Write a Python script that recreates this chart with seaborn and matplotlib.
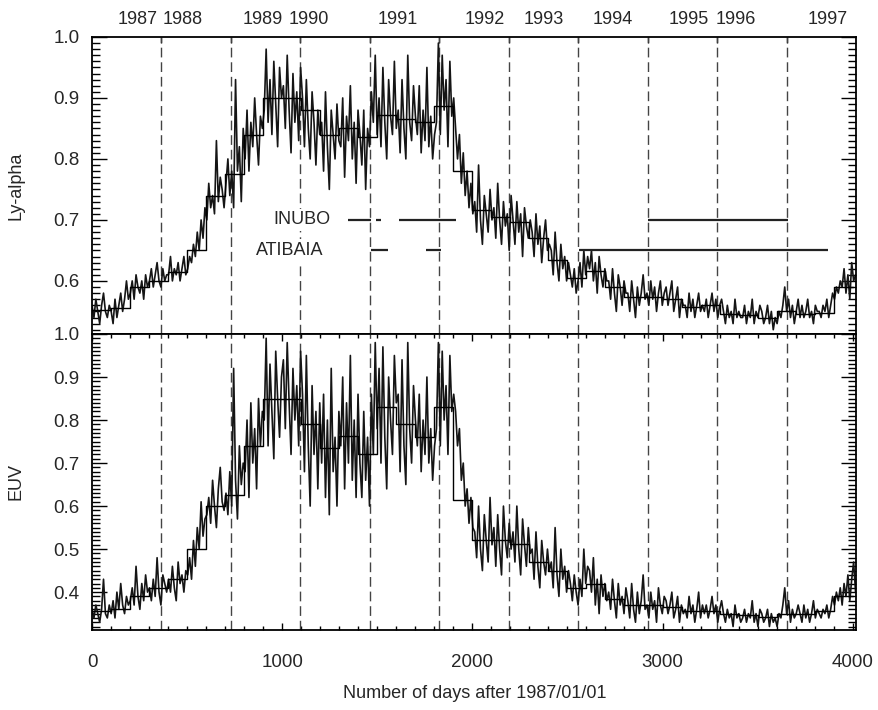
import numpy as np
import pandas as pd
import matplotlib
matplotlib.use("Agg")
import matplotlib.pyplot as plt
import seaborn as sns
from matplotlib.ticker import MultipleLocator, FixedLocator

# Rotation-group (100 day) averages
lya_step = [0.553, 0.555, 0.590, 0.600, 0.615, 0.650, 0.740, 0.776, 0.840, 0.900,
            0.900, 0.880, 0.840, 0.850, 0.836, 0.872, 0.865, 0.860, 0.886, 0.780,
            0.716, 0.705, 0.697, 0.670, 0.635, 0.605, 0.617, 0.590, 0.574, 0.574,
            0.570, 0.557, 0.560, 0.545, 0.544, 0.540, 0.550, 0.546, 0.548, 0.590]
euv_step = [0.357, 0.360, 0.390, 0.410, 0.430, 0.500, 0.600, 0.625, 0.740, 0.850,
            0.850, 0.790, 0.735, 0.764, 0.720, 0.830, 0.790, 0.760, 0.830, 0.613,
            0.520, 0.520, 0.512, 0.470, 0.450, 0.410, 0.420, 0.384, 0.370, 0.370,
            0.365, 0.357, 0.357, 0.348, 0.346, 0.342, 0.350, 0.350, 0.355, 0.390]

# Daily curve, sampled every ~10 days (one row = 100 days)
lya_daily = [
    0.56, 0.54, 0.57, 0.55, 0.53, 0.56, 0.58, 0.55, 0.54, 0.56,
    0.55, 0.53, 0.57, 0.54, 0.56, 0.58, 0.55, 0.57, 0.60, 0.57,
    0.58, 0.60, 0.57, 0.61, 0.59, 0.58, 0.60, 0.57, 0.61, 0.59,
    0.60, 0.62, 0.59, 0.61, 0.63, 0.60, 0.59, 0.62, 0.60, 0.61,
    0.61, 0.64, 0.60, 0.62, 0.61, 0.63, 0.60, 0.62, 0.64, 0.61,
    0.62, 0.64, 0.63, 0.66, 0.64, 0.68, 0.65, 0.70, 0.67, 0.72,
    0.70, 0.76, 0.72, 0.74, 0.71, 0.83, 0.73, 0.77, 0.75, 0.72,
    0.76, 0.80, 0.74, 0.78, 0.72, 0.93, 0.78, 0.82, 0.73, 0.85,
    0.80, 0.88, 0.78, 0.86, 0.82, 0.90, 0.84, 0.79, 0.87, 0.85,
    0.88, 0.98, 0.86, 0.93, 0.84, 0.96, 0.89, 0.82, 0.95, 0.90,
    0.92, 0.85, 0.97, 0.88, 0.81, 0.94, 0.86, 0.91, 0.83, 0.95,
    0.90, 0.82, 0.93, 0.85, 0.80, 0.91, 0.86, 0.79, 0.88, 0.84,
    0.86, 0.78, 0.91, 0.82, 0.75, 0.88, 0.84, 0.80, 0.89, 0.83,
    0.82, 0.90, 0.77, 0.87, 0.83, 0.92, 0.80, 0.86, 0.76, 0.88,
    0.84, 0.79, 0.88, 0.75, 0.85, 0.82, 0.91, 0.86, 0.97, 0.84,
    0.90, 0.82, 0.95, 0.86, 0.80, 0.93, 0.87, 0.84, 0.96, 0.85,
    0.88, 0.81, 0.93, 0.85, 0.80, 0.97, 0.86, 0.83, 0.92, 0.87,
    0.84, 0.92, 0.81, 0.88, 0.83, 0.95, 0.82, 0.87, 0.80, 0.84,
    0.86, 0.99, 0.84, 0.97, 0.88, 0.93, 0.82, 0.96, 0.87, 0.90,
    0.85, 0.80, 0.84, 0.76, 0.81, 0.74, 0.78, 0.72, 0.76, 0.71,
    0.73, 0.68, 0.79, 0.70, 0.66, 0.74, 0.71, 0.68, 0.75, 0.70,
    0.72, 0.67, 0.76, 0.70, 0.66, 0.73, 0.69, 0.71, 0.65, 0.74,
    0.70, 0.66, 0.73, 0.68, 0.71, 0.64, 0.72, 0.69, 0.67, 0.70,
    0.68, 0.64, 0.71, 0.66, 0.69, 0.63, 0.67, 0.70, 0.65, 0.66,
    0.65, 0.61, 0.68, 0.63, 0.60, 0.66, 0.62, 0.64, 0.60, 0.63,
    0.61, 0.59, 0.62, 0.58, 0.60, 0.63, 0.59, 0.65, 0.61, 0.64,
    0.62, 0.65, 0.60, 0.63, 0.58, 0.64, 0.61, 0.59, 0.62, 0.60,
    0.60, 0.57, 0.62, 0.58, 0.55, 0.61, 0.59, 0.56, 0.60, 0.58,
    0.58, 0.55, 0.60, 0.57, 0.54, 0.59, 0.56, 0.58, 0.61, 0.57,
    0.58, 0.56, 0.60, 0.57, 0.59, 0.55, 0.58, 0.60, 0.56, 0.58,
    0.59, 0.56, 0.58, 0.60, 0.55, 0.57, 0.59, 0.54, 0.57, 0.56,
    0.56, 0.54, 0.58, 0.55, 0.57, 0.54, 0.56, 0.58, 0.55, 0.56,
    0.55, 0.57, 0.54, 0.56, 0.58, 0.55, 0.57, 0.54, 0.56, 0.57,
    0.55, 0.53, 0.56, 0.54, 0.55, 0.53, 0.57, 0.54, 0.55, 0.54,
    0.54, 0.56, 0.53, 0.55, 0.54, 0.57, 0.53, 0.55, 0.54, 0.56,
    0.55, 0.53, 0.54, 0.56, 0.53, 0.55, 0.52, 0.54, 0.53, 0.55,
    0.54, 0.56, 0.59, 0.55, 0.57, 0.54, 0.56, 0.53, 0.55, 0.57,
    0.54, 0.56, 0.54, 0.55, 0.57, 0.54, 0.55, 0.53, 0.56, 0.55,
    0.55, 0.54, 0.56, 0.55, 0.57, 0.54, 0.56, 0.58, 0.57, 0.59,
    0.58, 0.60, 0.59, 0.62, 0.58, 0.61, 0.57, 0.63, 0.60, 0.61,
]
euv_daily = [
    0.36, 0.34, 0.37, 0.35, 0.33, 0.36, 0.43, 0.35, 0.34, 0.37,
    0.35, 0.38, 0.34, 0.40, 0.36, 0.42, 0.37, 0.35, 0.39, 0.37,
    0.38, 0.41, 0.37, 0.46, 0.39, 0.36, 0.42, 0.38, 0.44, 0.40,
    0.41, 0.38, 0.43, 0.39, 0.48, 0.40, 0.37, 0.44, 0.42, 0.40,
    0.43, 0.40, 0.46, 0.41, 0.38, 0.47, 0.42, 0.44, 0.40, 0.45,
    0.44, 0.48, 0.43, 0.52, 0.46, 0.55, 0.50, 0.61, 0.53, 0.57,
    0.58, 0.62, 0.56, 0.66, 0.60, 0.55, 0.64, 0.69, 0.61, 0.59,
    0.63, 0.58, 0.68, 0.60, 0.92, 0.66, 0.57, 0.74, 0.65, 0.70,
    0.68, 0.80, 0.62, 0.84, 0.70, 0.78, 0.64, 0.85, 0.74, 0.82,
    0.80, 0.99, 0.74, 0.93, 0.82, 0.71, 0.96, 0.85, 0.76, 0.90,
    0.94, 0.78, 0.98, 0.84, 0.72, 0.92, 0.80, 0.88, 0.74, 0.96,
    0.86, 0.68, 0.95, 0.74, 0.60, 0.88, 0.72, 0.82, 0.64, 0.84,
    0.70, 0.86, 0.62, 0.80, 0.58, 0.92, 0.68, 0.76, 0.60, 0.82,
    0.74, 0.90, 0.64, 0.84, 0.70, 0.95, 0.66, 0.80, 0.62, 0.86,
    0.70, 0.62, 0.82, 0.66, 0.76, 0.60, 0.86, 0.72, 0.98, 0.78,
    0.92, 0.70, 0.97, 0.76, 0.64, 0.90, 0.80, 0.72, 0.95, 0.84,
    0.86, 0.68, 0.94, 0.74, 0.65, 0.98, 0.78, 0.70, 0.88, 0.80,
    0.74, 0.86, 0.68, 0.80, 0.72, 0.90, 0.70, 0.78, 0.66, 0.74,
    0.78, 0.98, 0.74, 0.96, 0.80, 0.88, 0.72, 0.95, 0.82, 0.86,
    0.82, 0.74, 0.78, 0.66, 0.70, 0.60, 0.64, 0.56, 0.62, 0.55,
    0.54, 0.48, 0.60, 0.50, 0.45, 0.58, 0.52, 0.47, 0.62, 0.51,
    0.55, 0.46, 0.58, 0.50, 0.44, 0.60, 0.52, 0.48, 0.56, 0.50,
    0.54, 0.47, 0.60, 0.50, 0.44, 0.57, 0.51, 0.46, 0.55, 0.49,
    0.50, 0.43, 0.54, 0.46, 0.41, 0.52, 0.47, 0.44, 0.50, 0.45,
    0.47, 0.41, 0.55, 0.44, 0.39, 0.50, 0.43, 0.46, 0.40, 0.45,
    0.42, 0.38, 0.44, 0.40, 0.37, 0.43, 0.39, 0.50, 0.42, 0.46,
    0.45, 0.40, 0.48, 0.37, 0.43, 0.35, 0.44, 0.39, 0.42, 0.38,
    0.40, 0.36, 0.43, 0.38, 0.34, 0.42, 0.37, 0.39, 0.35, 0.41,
    0.38, 0.34, 0.42, 0.36, 0.33, 0.40, 0.35, 0.38, 0.44, 0.36,
    0.37, 0.34, 0.40, 0.36, 0.38, 0.33, 0.41, 0.37, 0.35, 0.39,
    0.38, 0.35, 0.37, 0.40, 0.34, 0.36, 0.39, 0.33, 0.37, 0.35,
    0.36, 0.34, 0.39, 0.35, 0.37, 0.33, 0.36, 0.40, 0.34, 0.37,
    0.35, 0.37, 0.34, 0.36, 0.39, 0.35, 0.37, 0.33, 0.36, 0.38,
    0.35, 0.33, 0.36, 0.34, 0.35, 0.32, 0.37, 0.34, 0.35, 0.33,
    0.34, 0.36, 0.33, 0.35, 0.34, 0.38, 0.33, 0.35, 0.32, 0.36,
    0.35, 0.33, 0.34, 0.36, 0.32, 0.35, 0.33, 0.34, 0.32, 0.35,
    0.34, 0.37, 0.41, 0.35, 0.38, 0.33, 0.36, 0.34, 0.35, 0.37,
    0.35, 0.33, 0.37, 0.34, 0.36, 0.33, 0.35, 0.38, 0.34, 0.36,
    0.35, 0.34, 0.36, 0.35, 0.37, 0.34, 0.36, 0.39, 0.37, 0.40,
    0.38, 0.41, 0.37, 0.42, 0.39, 0.44, 0.38, 0.43, 0.47, 0.40,
]

year_labels = [str(y) for y in range(1987, 1998)]
year_label_days = [241, 476, 900, 1141, 1607, 2063, 2377, 2738, 3136, 3387, 3869]

# observing periods of the two stations (days)
inubo_periods = [(1345, 1466), (1492, 1518), (1613, 1913), (2924, 3661)]
atibaia_periods = [(1466, 1555), (1755, 1834), (2561, 3871)]

# Jan 1 of every year after the first one
year_starts = (pd.to_datetime([f"{y}-01-01" for y in range(1988, 1998)])
               - pd.Timestamp("1987-01-01")).days.values

daily_days = np.linspace(0, 4015, len(lya_daily))
step_days = np.arange(0, 100 * len(lya_step) + 1, 100)

sns.set_theme(style="ticks")
plt.rcParams["font.family"] = ["Liberation Sans", "DejaVu Sans"]
plt.rcParams["font.size"] = 13

fig = plt.figure(figsize=(8.79, 7.10), dpi=100)
ax1 = fig.add_axes([0.1047, 0.5296, 0.8697, 0.4184])
ax2 = fig.add_axes([0.1047, 0.1127, 0.8697, 0.4169])

panels = [(ax1, lya_daily, lya_step, "Ly-alpha", (0.513, 1.0)),
          (ax2, euv_daily, euv_step, "EUV", (0.312, 1.0))]

for ax, daily, step, label, ylim in panels:
    for d in year_starts:
        ax.axvline(d, color="#444444", lw=1.0, dashes=(7, 3.5), zorder=1)
    sns.lineplot(x=daily_days, y=daily, ax=ax, color="#151515", linewidth=1.2,
                 errorbar=None, zorder=2)
    sns.lineplot(x=step_days, y=step + [step[-1]], ax=ax, color="black",
                 linewidth=1.0, drawstyle="steps-post", errorbar=None, zorder=3)
    ax.set_xlim(0, 4020)
    ax.set_ylim(*ylim)
    ax.set_ylabel(label, fontsize=13)
    ax.yaxis.set_label_coords(-0.088, 0.5)
    ax.yaxis.set_major_locator(MultipleLocator(0.1))
    ax.yaxis.set_minor_locator(MultipleLocator(0.01))
    ax.yaxis.set_major_formatter(matplotlib.ticker.FormatStrFormatter("%.1f"))
    ax.tick_params(axis="y", which="both", direction="in", left=True, right=True,
                   labelsize=13.5, pad=9, width=1.0, color="black")
    ax.tick_params(axis="y", which="major", length=11)
    ax.tick_params(axis="y", which="minor", length=5.5)
    for sp in ax.spines.values():
        sp.set_visible(True)
        sp.set_color("black")
        sp.set_linewidth(1.3)

# top panel: ticks at the year boundaries, year names above
ax1.xaxis.set_major_locator(FixedLocator(year_starts))
ax1.tick_params(axis="x", which="both", direction="in", top=True, bottom=False,
                labelbottom=False, length=4.5, width=1.0, color="black")
ax1.set_xlabel("")
for d, lab in zip(year_label_days, year_labels):
    ax1.annotate(lab, xy=(d, 1), xycoords=("data", "axes fraction"),
                 xytext=(0, 17), textcoords="offset pixels",
                 ha="center", va="center", fontsize=13)

# station coverage bars
for s, e in inubo_periods:
    ax1.hlines(0.70, s, e, color="#222222", lw=1.6, zorder=4)
for s, e in atibaia_periods:
    ax1.hlines(0.65, s, e, color="#222222", lw=1.6, zorder=4)
label_box = dict(facecolor="white", edgecolor="none", pad=2)
ax1.text(1255, 0.70, "INUBO", ha="right", va="center", fontsize=13,
         bbox=label_box, zorder=5)
ax1.text(1218, 0.65, "ATIBAIA", ha="right", va="center", fontsize=13,
         bbox=label_box, zorder=5)

# bottom panel x axis
ax2.xaxis.set_major_locator(MultipleLocator(1000))
ax2.xaxis.set_minor_locator(MultipleLocator(100))
ax2.tick_params(axis="x", which="both", direction="in", top=True, bottom=True,
                labelsize=13.5, pad=17, width=1.0, color="black")
ax2.tick_params(axis="x", which="major", length=5)
ax2.tick_params(axis="x", which="minor", length=3)
ax2.set_xlabel("Number of days after 1987/01/01", fontsize=13)
ax2.xaxis.set_label_coords(0.5, -0.185)

fig.savefig("out.png", dpi=100)
